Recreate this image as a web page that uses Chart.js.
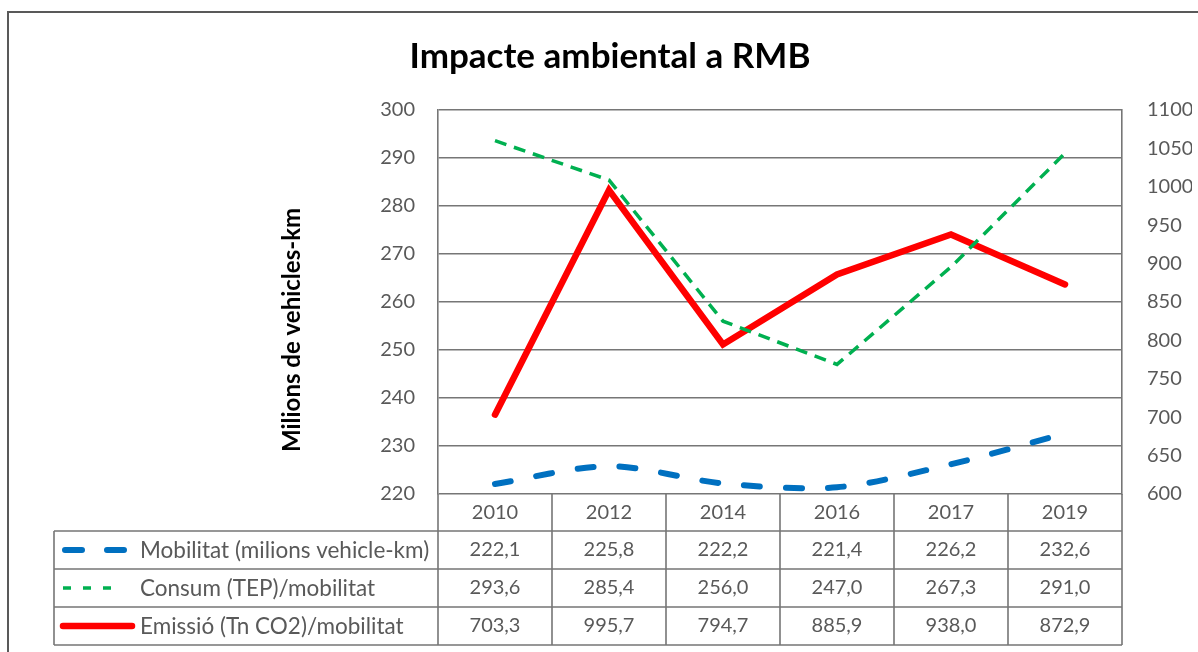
<!DOCTYPE html>
<html>
<head>
<meta charset="utf-8">
<script src="https://cdn.jsdelivr.net/npm/chart.js@4"></script>
<style>
  html, body { margin: 0; padding: 0; background: #fff; }
  canvas { display: block; }
</style>
</head>
<body>
<canvas id="impacte" width="1198" height="652"></canvas>
<script>
"use strict";
// ========== DATA ========== //
const years = ['2010', '2012', '2014', '2016', '2017', '2019'];
const mobilitat = [222.1, 225.8, 222.2, 221.4, 226.2, 232.6]; // left axis
const consum = [293.6, 285.4, 256.0, 247.0, 267.3, 291.0];    // left axis
const emissio = [703.3, 995.7, 794.7, 885.9, 938.0, 872.9];   // right axis
const seriesNames = ['Mobilitat (milions vehicle-km)', 'Consum (TEP)/mobilitat', 'Emissió (Tn CO2)/mobilitat'];

const FONT = 'Lato, "Noto Sans", sans-serif';
const GREY = '#595959';
const LINE = '#767676';

// number in catalan style: 222,1
function fmt(v) {
  return v.toFixed(1).replace('.', ',');
}

// draws title, axis title, data table with legend keys and the outer frame
const tablePlugin = {
  id: 'dataTable',
  afterDraw(chart) {
    const ctx = chart.ctx;
    const x = chart.scales.x;
    const area = chart.chartArea;
    const rowTops = [area.bottom, 531, 569, 607, 645];
    const tableLeft = 54;
    const colW = (area.right - area.left) / years.length;

    ctx.save();
    // outer frame (cut off right and bottom like the picture)
    ctx.strokeStyle = GREY;
    ctx.lineWidth = 2;
    ctx.beginPath();
    ctx.moveTo(8, 652);
    ctx.lineTo(8, 12);
    ctx.lineTo(1198, 12);
    ctx.stroke();

    // title
    ctx.fillStyle = '#000';
    ctx.font = 'bold 35px ' + FONT;
    ctx.textAlign = 'center';
    ctx.textBaseline = 'middle';
    ctx.fillText('Impacte ambiental a RMB', 610, 57);

    // y axis title
    ctx.save();
    ctx.translate(292, 330);
    ctx.rotate(-Math.PI / 2);
    ctx.font = 'bold 24px ' + FONT;
    ctx.fillText('Milions de vehicles-km', 0, 0);
    ctx.restore();

    // table grid
    ctx.strokeStyle = LINE;
    ctx.lineWidth = 1.6;
    ctx.beginPath();
    for (let i = 1; i < rowTops.length; i++) {
      ctx.moveTo(tableLeft, rowTops[i]);
      ctx.lineTo(area.right, rowTops[i]);
    }
    ctx.moveTo(tableLeft, rowTops[1]);
    ctx.lineTo(tableLeft, rowTops[4]);
    for (let c = 0; c <= years.length; c++) {
      const cx = area.left + c * colW;
      ctx.moveTo(cx, rowTops[0]);
      ctx.lineTo(cx, rowTops[4]);
    }
    ctx.stroke();

    // cell texts
    ctx.fillStyle = GREY;
    ctx.font = '20px ' + FONT;
    ctx.textAlign = 'center';
    const rows = [mobilitat, consum, emissio];
    years.forEach((yr, i) => {
      const cx = x.getPixelForValue(i);
      ctx.fillText(yr, cx, (rowTops[0] + rowTops[1]) / 2);
      rows.forEach((vals, r) => {
        ctx.fillText(fmt(vals[i]), cx, (rowTops[r + 1] + rowTops[r + 2]) / 2);
      });
    });

    // legend keys + names
    const ds = chart.data.datasets;
    ctx.textAlign = 'left';
    ctx.font = '22.5px ' + FONT;
    seriesNames.forEach((name, r) => {
      const cy = (rowTops[r + 1] + rowTops[r + 2]) / 2;
      const d = ds[r];
      ctx.beginPath();
      ctx.strokeStyle = d.borderColor;
      ctx.lineWidth = d.borderWidth;
      ctx.lineCap = d.borderCapStyle;
      if (r === 0) ctx.setLineDash([17, 25]);
      else if (r === 1) ctx.setLineDash([8, 12]);
      else ctx.setLineDash([]);
      const x1 = r === 2 ? 132 : (r === 0 ? 127 : 123);
      ctx.moveTo(r === 0 ? 65 : 63, cy);
      ctx.lineTo(x1, cy);
      ctx.stroke();
      ctx.setLineDash([]);
      ctx.fillText(name, 140, cy + 1);
    });
    ctx.restore();
  }
};

let chartContainer = document.querySelector('#impacte');
let chart = new Chart(chartContainer, {
  type: 'line',
  data: {
    labels: years,
    datasets: [
      {
        label: seriesNames[0],
        data: mobilitat,
        yAxisID: 'y',
        borderColor: '#0070C0',
        borderWidth: 6,
        borderDash: [16, 26],
        borderCapStyle: 'round',
        tension: 0.3,
        pointRadius: 0,
        fill: false
      },
      {
        label: seriesNames[1],
        data: consum,
        yAxisID: 'y',
        borderColor: '#00B050',
        borderWidth: 3.5,
        borderDash: [12, 8],
        borderCapStyle: 'butt',
        tension: 0,
        pointRadius: 0,
        fill: false
      },
      {
        label: seriesNames[2],
        data: emissio,
        yAxisID: 'y1',
        borderColor: '#FF0000',
        borderWidth: 6.5,
        borderCapStyle: 'round',
        borderJoinStyle: 'miter',
        tension: 0,
        pointRadius: 0,
        fill: false
      }
    ]
  },
  options: {
    responsive: false,
    animation: false,
    layout: { padding: { left: 368, right: 6, top: 110, bottom: 158 } },
    plugins: {
      legend: { display: false },
      title: { display: false },
      tooltip: { enabled: false }
    },
    scales: {
      x: { type: 'category', offset: true, display: false },
      y: {
        position: 'left',
        min: 220,
        max: 300,
        afterFit: s => { s.width = 70; },
        ticks: { stepSize: 10, color: GREY, font: { family: FONT, size: 20 }, padding: 23, callback: v => String(v) },
        grid: { color: LINE, lineWidth: 1.6, drawTicks: false },
        border: { display: true, color: LINE, width: 1.6 }
      },
      y1: {
        position: 'right',
        min: 600,
        max: 1100,
        afterFit: s => { s.width = 70; },
        ticks: { stepSize: 50, color: GREY, font: { family: FONT, size: 20 }, padding: 25, callback: v => String(v) },
        grid: { drawOnChartArea: false, drawTicks: false },
        border: { display: true, color: LINE, width: 1.6 }
      }
    }
  },
  plugins: [tablePlugin]
});
</script>
</body>
</html>
